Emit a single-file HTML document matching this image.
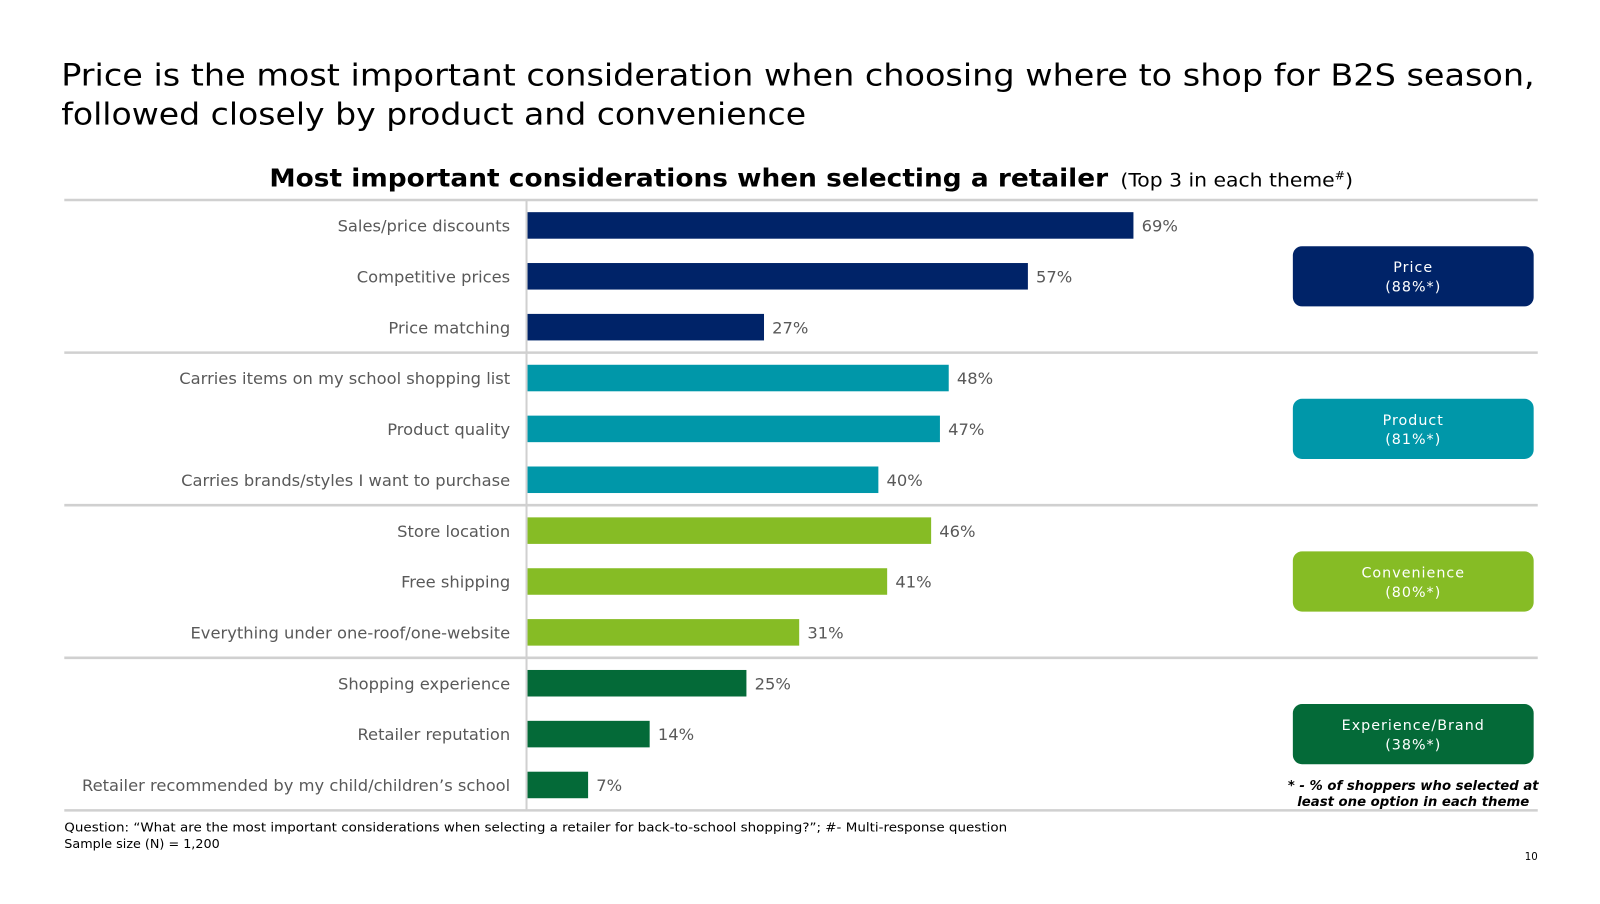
<!DOCTYPE html>
<html><head><meta charset="utf-8"><style>
body{margin:0;background:#fff;width:1600px;height:900px;overflow:hidden;font-family:"DejaVu Sans","Liberation Sans",sans-serif}
svg text{font-family:"DejaVu Sans","Liberation Sans",sans-serif}
</style></head><body>
<svg width="1600" height="900" xmlns="http://www.w3.org/2000/svg">
<g transform="scale(1.0204)">
<text x="60" y="84" font-size="30" fill="#000" textLength="1444" lengthAdjust="spacingAndGlyphs">Price is the most important consideration when choosing where to shop for B2S season,</text>
<text x="60" y="122" font-size="30" fill="#000" textLength="730" lengthAdjust="spacingAndGlyphs">followed closely by product and convenience</text>
<text x="264" y="183" font-size="24" font-weight="bold" fill="#000" textLength="822" lengthAdjust="spacingAndGlyphs">Most important considerations when selecting a retailer</text>
<text x="1098" y="183" font-size="18" fill="#000" textLength="228" lengthAdjust="spacingAndGlyphs">(Top 3 in each theme<tspan font-size="11" dy="-7">#</tspan><tspan dy="7">)</tspan></text>
<g id="grid"></g>
<g id="bars"></g>
<g id="badges"></g>
<text x="1385" y="774" font-size="13" font-weight="bold" font-style="italic" text-anchor="middle" fill="#000">* - % of shoppers who selected at</text>
<text x="1385" y="790" font-size="13" font-weight="bold" font-style="italic" text-anchor="middle" fill="#000">least one option in each theme</text>
<text x="63" y="815" font-size="12.5" fill="#000" textLength="924" lengthAdjust="spacingAndGlyphs">Question: “What are the most important considerations when selecting a retailer for back-to-school shopping?”; #- Multi-response question</text>
<text x="63" y="831" font-size="12.5" fill="#000">Sample size (N) = 1,200</text>
<text x="1507" y="843" font-size="10" text-anchor="end" fill="#000">10</text>
</g>
</svg>
<script>
const categories=["Sales/price discounts","Competitive prices","Price matching","Carries items on my school shopping list","Product quality","Carries brands/styles I want to purchase","Store location","Free shipping","Everything under one-roof/one-website","Shopping experience","Retailer reputation","Retailer recommended by my child/children’s school"];
const values=[69,57,27,48,47,40,46,41,31,25,14,7];
const themes=["Price","Product","Convenience","Experience/Brand"];
const themeValues=[88,81,80,38];
const themeColors=["#002368","#0097A9","#86BC25","#046A38"];
const NS="http://www.w3.org/2000/svg";
const x0=516,pxPer=8.62,rowTop=196,rowH=49.85,barH=26;
const xs=v=>x0+v*pxPer;
const yc=i=>rowTop+rowH*(i+0.5);
function mk(t,a,p){const e=document.createElementNS(NS,t);for(const k in a)e.setAttribute(k,a[k]);p.appendChild(e);return e;}
const grid=document.getElementById('grid'),bars=document.getElementById('bars'),badges=document.getElementById('badges');
for(let g=0;g<=4;g++){const y=rowTop+rowH*3*g;const l=mk('line',{x1:63,x2:1507,y1:y,y2:y,stroke:'#d0d0d0','stroke-width':2.5},grid);

}
const ax=mk('line',{x1:x0,x2:x0,y1:rowTop,y2:rowTop+rowH*12,stroke:'#d0d0d0','stroke-width':2},grid);


categories.forEach((c,i)=>{
const col=themeColors[Math.floor(i/3)];
const r=mk('rect',{x:x0+1,y:yc(i)-barH/2,width:xs(values[i])-x0-1,height:barH,fill:col},bars);


const t=mk('text',{x:500,y:yc(i)+6,'font-size':16,'text-anchor':'end',fill:'#595959'},bars);t.textContent=c;


const v=mk('text',{x:xs(values[i])+8,y:yc(i)+6,'font-size':16,fill:'#595959'},bars);v.textContent=values[i]+'%';


});
themes.forEach((th,g)=>{
const cy=yc(g*3+1);
const b=mk('rect',{x:1267,y:cy-29.5,width:236,height:59,rx:9,fill:themeColors[g]},badges);


const t1=mk('text',{x:1385,y:cy-4,'font-size':14,'text-anchor':'middle',fill:'#fff','letter-spacing':1},badges);t1.textContent=th;


const t2=mk('text',{x:1385,y:cy+15,'font-size':14,'text-anchor':'middle',fill:'#fff','letter-spacing':1},badges);t2.textContent='('+themeValues[g]+'%*)';


});
</script>
</body></html>
